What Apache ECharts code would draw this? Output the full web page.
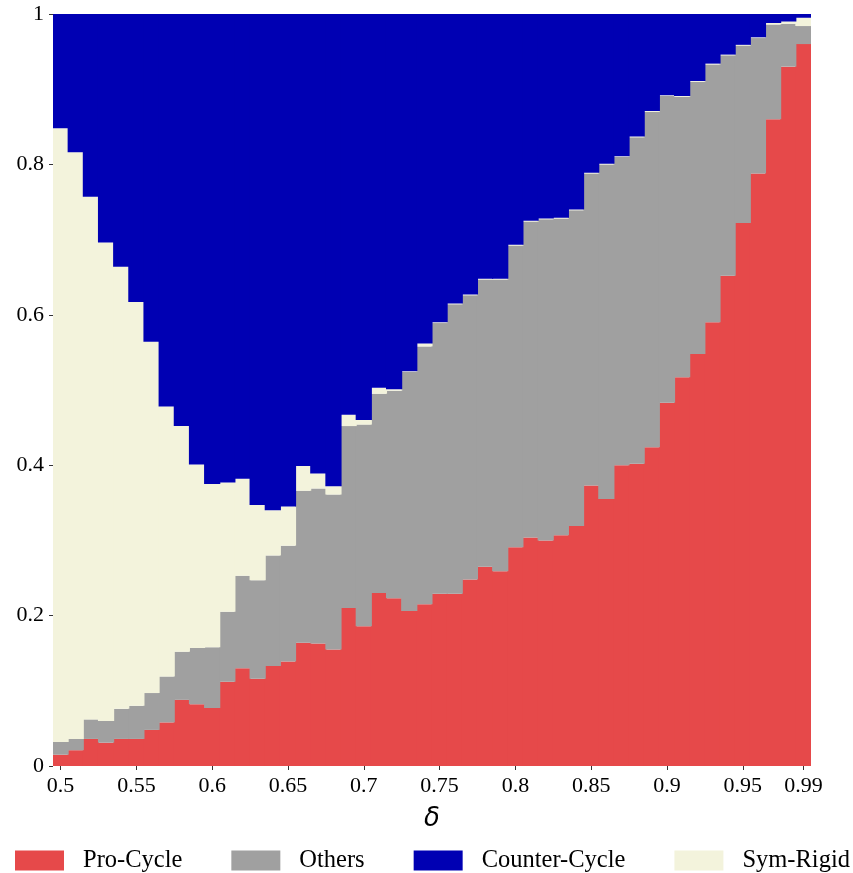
<!DOCTYPE html>
<html>
<head>
<meta charset="utf-8">
<script src="https://cdn.jsdelivr.net/npm/echarts@6/dist/echarts.min.js"></script>
<style>
  html, body { margin: 0; padding: 0; background: #fff; }
  #chart { width: 853px; height: 873px; }
</style>
</head>
<body>
<div id="chart"></div>
<script>
// delta values (x categories)
var deltas = [0.5, 0.51, 0.52, 0.53, 0.54, 0.55, 0.56, 0.57, 0.58, 0.59,
              0.6, 0.61, 0.62, 0.63, 0.64, 0.65, 0.66, 0.67, 0.68, 0.69,
              0.7, 0.71, 0.72, 0.73, 0.74, 0.75, 0.76, 0.77, 0.78, 0.79,
              0.8, 0.81, 0.82, 0.83, 0.84, 0.85, 0.86, 0.87, 0.88, 0.89,
              0.9, 0.91, 0.92, 0.93, 0.94, 0.95, 0.96, 0.97, 0.98, 0.99];

// share of each type (stack order: pro, others, sym, counter)
var proCycle = [0.015, 0.021, 0.036, 0.031, 0.036, 0.036, 0.048, 0.058, 0.088, 0.082,
                0.077, 0.112, 0.130, 0.116, 0.133, 0.139, 0.164, 0.163, 0.155, 0.210,
                0.186, 0.230, 0.223, 0.206, 0.215, 0.229, 0.229, 0.248, 0.265, 0.259,
                0.291, 0.304, 0.300, 0.307, 0.319, 0.373, 0.355, 0.400, 0.402, 0.424,
                0.483, 0.517, 0.548, 0.590, 0.652, 0.722, 0.788, 0.860, 0.930, 0.960];
var others = [0.017, 0.015, 0.026, 0.029, 0.040, 0.044, 0.049, 0.061, 0.064, 0.075,
              0.081, 0.093, 0.123, 0.131, 0.147, 0.154, 0.202, 0.206, 0.206, 0.242,
              0.268, 0.265, 0.276, 0.318, 0.343, 0.360, 0.385, 0.378, 0.382, 0.388,
              0.401, 0.420, 0.427, 0.421, 0.420, 0.415, 0.445, 0.410, 0.434, 0.446,
              0.408, 0.373, 0.362, 0.343, 0.293, 0.236, 0.180, 0.126, 0.057, 0.024];
var symRigid = [0.816, 0.780, 0.695, 0.636, 0.588, 0.537, 0.467, 0.359, 0.300, 0.244,
                0.217, 0.172, 0.129, 0.100, 0.060, 0.052, 0.033, 0.020, 0.011, 0.015,
                0.006, 0.008, 0.002, 0.001, 0.004, 0.001, 0.001, 0.001, 0.001, 0.001,
                0.001, 0.001, 0.001, 0.001, 0.001, 0.001, 0.001, 0.001, 0.001, 0.001,
                0.001, 0.001, 0.001, 0.001, 0.001, 0.001, 0.001, 0.002, 0.003, 0.011];
var counterCycle = [0.152, 0.184, 0.243, 0.304, 0.336, 0.383, 0.436, 0.522, 0.548, 0.599,
                    0.625, 0.623, 0.618, 0.653, 0.660, 0.655, 0.601, 0.611, 0.628, 0.533,
                    0.540, 0.497, 0.499, 0.475, 0.438, 0.410, 0.385, 0.373, 0.352, 0.352,
                    0.307, 0.275, 0.272, 0.271, 0.260, 0.211, 0.199, 0.189, 0.163, 0.129,
                    0.108, 0.109, 0.089, 0.066, 0.054, 0.041, 0.031, 0.012, 0.010, 0.005];

var serif = 'Liberation Serif';
var showTick = function (i) { return i % 5 === 0 || i === deltas.length - 1; };

function bar(name, data, color) {
    return {
        name: name,
        type: 'bar',
        stack: 'all',
        data: data,
        // slightly wider than the band so neighbouring bars overlap (no hairline seams)
        barWidth: '107%',
        itemStyle: { color: color },
        emphasis: { disabled: true }
    };
}

var myChart = echarts.init(document.getElementById('chart'));
myChart.setOption({
    animation: false,
    grid: { left: 53, right: 42, top: 14, bottom: 107 },
    legend: {
        data: ['Pro-Cycle', 'Others', 'Counter-Cycle', 'Sym-Rigid'],
        left: 15,
        top: 848,
        padding: 0,
        icon: 'rect',
        itemWidth: 49,
        itemHeight: 20,
        itemGap: 49,
        itemStyle: { borderWidth: 0 },
        textStyle: { fontFamily: serif, fontSize: 24.5, color: '#000', padding: [0, 0, 0, 14] }
    },
    xAxis: {
        type: 'category',
        data: deltas,
        name: 'δ',
        nameLocation: 'middle',
        nameGap: 40,
        nameTextStyle: { fontFamily: 'DejaVu Sans', fontStyle: 'italic', fontSize: 26, color: '#000' },
        axisLine: { show: false },
        axisTick: { show: true, alignWithLabel: true, interval: showTick, length: 4, lineStyle: { color: '#333' } },
        axisLabel: { interval: showTick, margin: 9, fontFamily: serif, fontSize: 22, color: '#000' },
        splitLine: { show: false }
    },
    yAxis: {
        type: 'value',
        min: 0,
        max: 1,
        interval: 0.2,
        axisLine: { show: false },
        axisTick: { show: true, length: 4, lineStyle: { color: '#333' } },
        axisLabel: { margin: 9, fontFamily: serif, fontSize: 22, color: '#000' },
        splitLine: { show: false }
    },
    series: [
        bar('Pro-Cycle', proCycle, '#e6494a'),
        bar('Others', others, '#a0a0a0'),
        bar('Sym-Rigid', symRigid, '#f3f3dc'),
        bar('Counter-Cycle', counterCycle, '#0000b3')
    ]
});
</script>
</body>
</html>
